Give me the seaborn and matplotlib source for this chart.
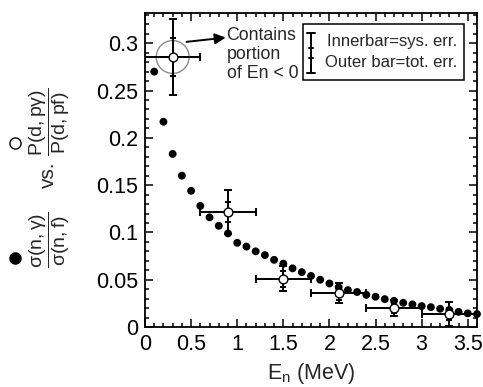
import numpy as np
import pandas as pd
import matplotlib
matplotlib.use("Agg")
import matplotlib.pyplot as plt
import seaborn as sns
from matplotlib.ticker import MultipleLocator, FuncFormatter
from matplotlib.patches import Rectangle

# ---- data ----
calc_en = [0.1, 0.2, 0.3, 0.4, 0.5, 0.6, 0.7, 0.8, 0.9, 1.0, 1.1, 1.2, 1.3, 1.4,
           1.5, 1.6, 1.7, 1.8, 1.9, 2.0, 2.1, 2.2, 2.3, 2.4, 2.5, 2.6, 2.7, 2.8,
           2.9, 3.0, 3.1, 3.2, 3.3, 3.4, 3.5, 3.6]
calc_ratio = [0.270, 0.217, 0.183, 0.160, 0.144, 0.128, 0.116, 0.107, 0.099,
              0.089, 0.085, 0.080, 0.076, 0.071, 0.067, 0.062, 0.058, 0.054,
              0.050, 0.046, 0.042, 0.039, 0.037, 0.034, 0.032, 0.0295, 0.0277,
              0.0256, 0.0239, 0.0221, 0.021, 0.0193, 0.018, 0.016, 0.0144, 0.0137]

meas_en = [0.3, 0.9, 1.5, 2.1, 2.7, 3.3]
meas_ratio = [0.2855, 0.1215, 0.0512, 0.0355, 0.0197, 0.0137]
meas_en_err = [0.3, 0.3, 0.3, 0.3, 0.3, 0.3]
meas_tot_err = [0.040, 0.023, 0.0135, 0.0105, 0.0085, 0.013]
meas_sys_err = [0.020, 0.011, 0.0085, 0.0065, 0.005, 0.006]

x_ticks = [0, 0.5, 1, 1.5, 2, 2.5, 3, 3.5]
y_ticks = [0, 0.05, 0.1, 0.15, 0.2, 0.25, 0.3]

calc_df = pd.DataFrame({"En": calc_en, "ratio": calc_ratio})
meas_df = pd.DataFrame({"En": meas_en, "ratio": meas_ratio})

# ---- style ----
sns.set_theme(style="ticks")
plt.rcParams["font.family"] = ["Liberation Sans", "DejaVu Sans"]
plt.rcParams["mathtext.fontset"] = "custom"
plt.rcParams["mathtext.rm"] = "Liberation Sans"
plt.rcParams["mathtext.it"] = "Liberation Sans:italic"
plt.rcParams["mathtext.sf"] = "Liberation Sans"

W, H = 483, 387
fig = plt.figure(figsize=(W / 100, H / 100), dpi=100)
fig.patch.set_facecolor("white")
ax = fig.add_axes([145 / W, 1 - 327 / H, 332 / W, 314 / H])

# calculated ratio (filled dots)
sns.scatterplot(data=calc_df, x="En", y="ratio", ax=ax, color="black",
                s=32, edgecolor="none", zorder=4, legend=False, clip_on=False)

# gray circle highlighting first measured point
ax.scatter(meas_en[:1], meas_ratio[:1], s=560, facecolors="none",
           edgecolors="#8c8c8c", linewidths=1.0, zorder=2)

# measured: total error bars
ax.errorbar(meas_en, meas_ratio, xerr=meas_en_err, yerr=meas_tot_err,
            fmt="none", ecolor="black", elinewidth=1.4, capsize=3,
            capthick=1.4, zorder=3)
# systematic (inner) marks
ax.errorbar(meas_en, meas_ratio, yerr=meas_sys_err, fmt="none",
            ecolor="black", elinewidth=0, capsize=2.2, capthick=1.4, zorder=3)

sns.scatterplot(data=meas_df, x="En", y="ratio", ax=ax, marker="o",
                color="white", edgecolor="black", linewidth=1.0, s=40,
                zorder=5, legend=False)

# axes
ax.set_xlim(0, 3.6)
ax.set_ylim(0, 0.332)
ax.set_xticks(x_ticks)
ax.set_yticks(y_ticks)
ax.xaxis.set_minor_locator(MultipleLocator(0.1))
ax.yaxis.set_minor_locator(MultipleLocator(0.01))
fmt = FuncFormatter(lambda v, p: "%g" % v)
ax.xaxis.set_major_formatter(fmt)
ax.yaxis.set_major_formatter(fmt)
ax.tick_params(which="both", direction="in", top=True, right=True,
               colors="black", width=1.1)
ax.tick_params(which="major", length=6, labelsize=15.5, pad=5)
ax.tick_params(which="minor", length=3)
for sp in ax.spines.values():
    sp.set_linewidth(1.3)
    sp.set_color("black")
ax.set_xlabel(r"E$_\mathrm{n}$ (MeV)", fontsize=15.5, labelpad=4)
ax.set_ylabel("")

# annotation
ax.annotate("", xy=(0.875, 0.306), xytext=(0.45, 0.3015),
            arrowprops=dict(arrowstyle="-|>", color="black", lw=1.4,
                            mutation_scale=16, shrinkA=0, shrinkB=0))
ax.text(0.885, 0.317, "Contains\nportion\nof En < 0", fontsize=12.8,
        ha="left", va="top", linespacing=1.15)

# legend box
ax.add_patch(Rectangle((0.476, 0.787), 0.485, 0.178, transform=ax.transAxes,
                       facecolor="white", edgecolor="black", lw=1.1, zorder=6))
lx = 0.5
ax.plot([lx, lx], [0.809, 0.936], transform=ax.transAxes, color="black",
        lw=1.4, zorder=7)
for yy, hw in [(0.936, 0.011), (0.809, 0.011), (0.889, 0.007), (0.857, 0.007)]:
    ax.plot([lx - hw, lx + hw], [yy, yy], transform=ax.transAxes,
            color="black", lw=1.4, zorder=7)
ax.text(0.94, 0.908, "Innerbar=sys. err.", transform=ax.transAxes,
        fontsize=12, ha="right", va="center", zorder=7)
ax.text(0.94, 0.841, "Outer bar=tot. err.", transform=ax.transAxes,
        fontsize=12, ha="right", va="center", zorder=7)

# y-label pieces (figure coordinates)
def fx(px):
    return px / W

def fy(py):
    return 1 - py / H

fig.text(fx(50), fy(240), r"$\mathrm{\dfrac{σ(n,γ)}{σ(n,f)}}$", rotation=90,
         ha="center", va="center", fontsize=14)
fig.text(fx(48), fy(175), "vs.", rotation=90, ha="center", va="center",
         fontsize=15)
fig.text(fx(50), fy(122), r"$\mathrm{\dfrac{P(d,pγ)}{P(d,pf)}}$", rotation=90,
         ha="center", va="center", fontsize=14)
fig.lines.append(plt.Line2D([fx(15)], [fy(258)], marker="o", color="black",
                            markersize=8, transform=fig.transFigure))
fig.lines.append(plt.Line2D([fx(15)], [fy(143)], marker="o",
                            markerfacecolor="white", markeredgecolor="black",
                            markeredgewidth=1.0, color="black", markersize=8,
                            transform=fig.transFigure))

fig.savefig("out.png", dpi=100)
